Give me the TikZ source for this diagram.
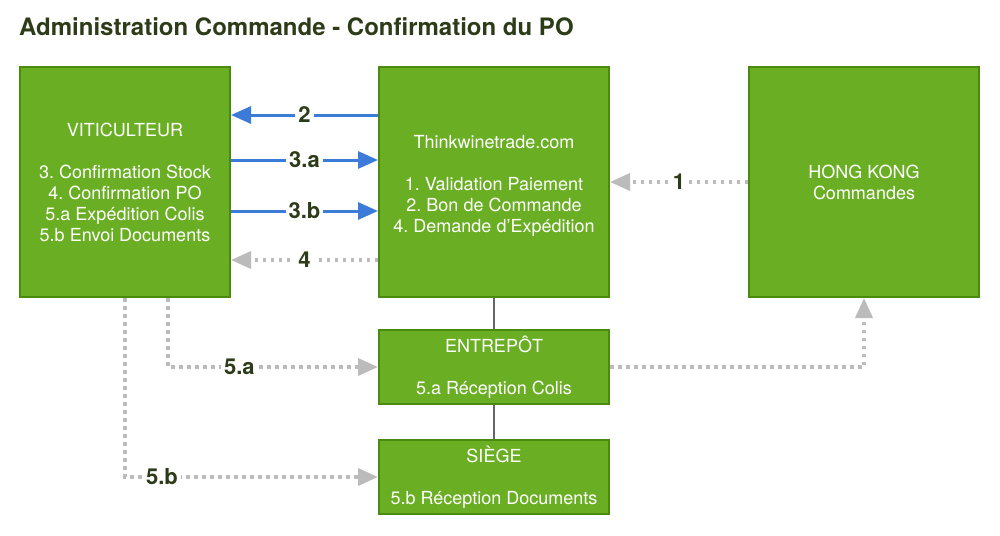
\documentclass[tikz,border=0pt]{standalone}
\usepackage{fontspec}
\setmainfont{TeX Gyre Heros}
\frenchspacing
\usetikzlibrary{arrows.meta}
\definecolor{boxfill}{HTML}{6AAF23}
\definecolor{boxline}{HTML}{4A8A0E}
\definecolor{blueline}{HTML}{3C7BD8}
\definecolor{grayline}{HTML}{BBBBBB}
\definecolor{darktxt}{HTML}{2D3B19}
\tikzset{
  boxtext/.style={text=white, align=center, font=\fontsize{18}{21}\selectfont, inner sep=0pt},
  gbox/.style={boxtext, draw=boxline, line width=2pt, fill=boxfill},
  bigbox/.style={gbox, minimum width=210pt, minimum height=230pt},
  smallbox/.style={gbox, minimum width=230pt, minimum height=74pt},
  bluearrow/.style={draw=blueline, line width=3pt, -{Triangle[length=20pt,width=17pt]}},
  grayarrow/.style={draw=grayline, line width=3.5pt, dash pattern=on 3.5pt off 4.5pt,
    -{Triangle[length=20pt,width=17pt]}},
  lab/.style={fill=white, text=darktxt, font=\fontsize{22}{22}\selectfont\bfseries, inner sep=3pt},
  joinline/.style={draw=gray!80!black, line width=1.5pt}
}
\begin{document}
\begin{tikzpicture}[x=1pt,y=-1pt]
\useasboundingbox (0,0) rectangle (1000,535);
\node[anchor=west, text=darktxt, font=\fontsize{24}{24}\selectfont\bfseries, inner sep=0pt] (title) at (19,27) {Administration Commande - Confirmation du PO};

\node[bigbox] (vit) at (125,182) {VITICULTEUR\\[21pt]3. Confirmation Stock\\4. Confirmation PO\\5.a Expédition Colis\\5.b Envoi Documents};
\node[bigbox, minimum width=230pt] (think) at (494,182) {};
\node[boxtext] (thinktxt) at (494,186) {Thinkwinetrade.com\\[21pt]1. Validation Paiement\\2. Bon de Commande\\4. Demande d'Expédition};
\node[bigbox, minimum width=230pt] (hk) at (864,182) {HONG KONG\\Commandes};
\node[smallbox] (ent) at (494,367) {ENTREPÔT\\[21pt]5.a Réception Colis};
\node[smallbox] (siege) at (494,477) {SIÈGE\\[21pt]5.b Réception Documents};

\draw[joinline] (think.south) -- (ent.north);
\draw[joinline] (ent.south) -- (siege.north);

\draw[bluearrow] (think.west |- 0,115) -- node[lab] {2} (vit.east |- 0,115);
\draw[bluearrow] (vit.east |- 0,160) -- node[lab] {3.a} (think.west |- 0,160);
\draw[bluearrow] (vit.east |- 0,211) -- node[lab] {3.b} (think.west |- 0,211);
\draw[grayarrow] (think.west |- 0,260) -- node[lab] {4} (vit.east |- 0,260);
\draw[grayarrow] (hk.west |- 0,182) -- node[lab] {1} (think.east |- 0,182);

\draw[grayarrow] (vit.south -| 168,0) |- node[lab, pos=0.67] {5.a} (ent.west);
\draw[grayarrow] (vit.south -| 125,0) |- node[lab, pos=0.573] {5.b} (siege.west);
\draw[grayarrow] (ent.east) -| (hk.south);
\end{tikzpicture}
\end{document}
